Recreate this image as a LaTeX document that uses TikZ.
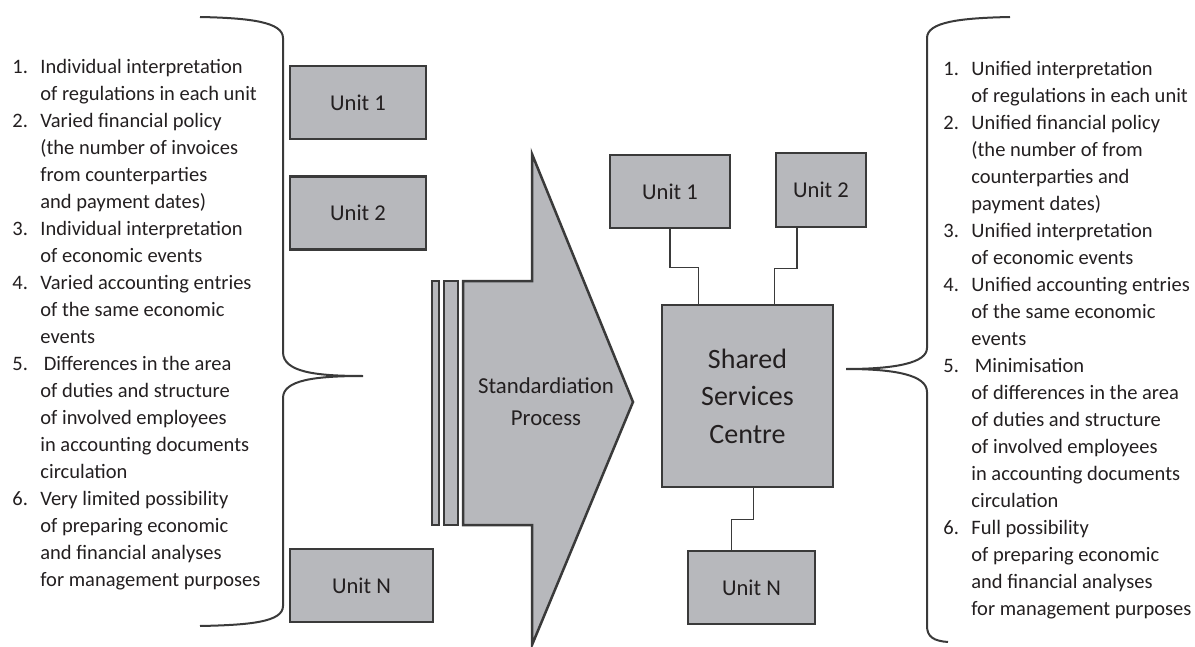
\documentclass[tikz,border=0pt]{standalone}
\usepackage{fontspec}
\setmainfont{Carlito}
\usetikzlibrary{positioning}
\definecolor{boxgray}{RGB}{183,184,188}
\definecolor{edgegray}{RGB}{58,58,58}
\definecolor{inkgray}{RGB}{35,31,32}
\tikzset{
    unit/.style={rectangle,draw=edgegray,line width=1.25pt,fill=boxgray,text=inkgray,
        font=\fontsize{11.3pt}{14pt}\selectfont,minimum height=36.5pt,inner sep=0pt},
    link/.style={draw=edgegray,line width=0.7pt},
    brace/.style={draw=edgegray,line width=1pt},
    flow/.style={draw=edgegray,line width=1.25pt,fill=boxgray,line join=miter},
    list/.style={anchor=west,align=left,inner sep=0pt,text=inkgray,
        font=\fontsize{10.25pt}{13.5pt}\selectfont}
}
\newcommand{\itemno}[1]{\makebox[14pt][l]{#1.}}
\newcommand{\itemcont}{\hspace*{14pt}}

\begin{document}
\begin{tikzpicture}[x=0.5pt,y=-0.5pt]
    \useasboundingbox (0,0) rectangle (1195,647);

    % before: the list and the scattered units
    \node[list] (leftlist) at (12,325) {\itemno{1}Individual interpretation\\
        \itemcont of regulations in each unit\\
        \itemno{2}Varied financial policy\\
        \itemcont (the number of invoices\\
        \itemcont from counterparties\\
        \itemcont and payment dates)\\
        \itemno{3}Individual interpretation\\
        \itemcont of economic events\\
        \itemno{4}Varied accounting entries\\
        \itemcont of the same economic\\
        \itemcont events\\
        \itemno{5}\,Differences in the area\\
        \itemcont of duties and structure\\
        \itemcont of involved employees\\
        \itemcont in accounting documents\\
        \itemcont circulation\\
        \itemno{6}Very limited possibility\\
        \itemcont of preparing economic\\
        \itemcont and financial analyses\\
        \itemcont for management purposes};

    \draw[brace] (200,17) .. controls (250,18) and (283,22) .. (283,38)
        -- (283,352) .. controls (283,372) and (315,376) .. (363,376)
        .. controls (315,376) and (283,380) .. (283,398)
        -- (283,606) .. controls (283,622) and (250,625) .. (200,626);

    \node[unit,minimum width=68pt] (lu1) at (358,102.5) {Unit 1};
    \node[unit,minimum width=68pt] (lu2) [below=17.5pt of lu1] {Unit 2};
    \node[unit,minimum width=71.5pt] (lun) at (361.5,585.5) {Unit N};

    % standardisation arrow
    \draw[flow] (432,281) rectangle (439,525);
    \draw[flow] (444,281) rectangle (458,525);
    \draw[flow] (463,281) -- (532,281) -- (532,154) -- (633,402)
        -- (532,645) -- (532,525) -- (463,525) -- cycle;
    \node[align=center,text=inkgray,font=\fontsize{11.4pt}{16pt}\selectfont]
        (stdtext) at (546,402) {Standardiation\\Process};

    % after: the centre and its units
    \node[unit,minimum width=85.5pt,minimum height=91pt,align=center,
        font=\fontsize{14pt}{18.75pt}\selectfont] (ssc) at (747.5,396) {Shared\\Services\\Centre};
    \node[unit,minimum width=60pt] (ru1) at (670,191.5) {Unit 1};
    \node[unit,minimum width=45pt,minimum height=37pt] (ru2) at (821,190) {Unit 2};
    \node[unit,minimum width=63.5pt] (run) at (751.5,587.5) {Unit N};

    \draw[link] (ru1.south) -- ++(0,38) -| ([xshift=19pt]ssc.north west);
    \draw[link] ([xshift=-12pt]ru2.south) -- ++(0,40) -| ([xshift=57pt]ssc.north west);
    \draw[link] ([xshift=3pt]ssc.south) -- ++(0,31) -| ([xshift=-10pt]run.north);

    \draw[brace] (1010,17) .. controls (960,18) and (927,22) .. (927,38)
        -- (927,348) .. controls (927,363) and (895,369) .. (846,369)
        .. controls (895,369) and (927,375) .. (927,392)
        -- (927,626) .. controls (927,637) and (934,641) .. (948,642);

    \node[list] (rightlist) at (943,340) {\itemno{1}Unified interpretation\\
        \itemcont of regulations in each unit\\
        \itemno{2}Unified financial policy\\
        \itemcont (the number of from\\
        \itemcont counterparties and\\
        \itemcont payment dates)\\
        \itemno{3}Unified interpretation\\
        \itemcont of economic events\\
        \itemno{4}Unified accounting entries\\
        \itemcont of the same economic\\
        \itemcont events\\
        \itemno{5}\,Minimisation\\
        \itemcont of differences in the area\\
        \itemcont of duties and structure\\
        \itemcont of involved employees\\
        \itemcont in accounting documents\\
        \itemcont circulation\\
        \itemno{6}Full possibility\\
        \itemcont of preparing economic\\
        \itemcont and financial analyses\\
        \itemcont for management purposes};
\end{tikzpicture}
\end{document}
